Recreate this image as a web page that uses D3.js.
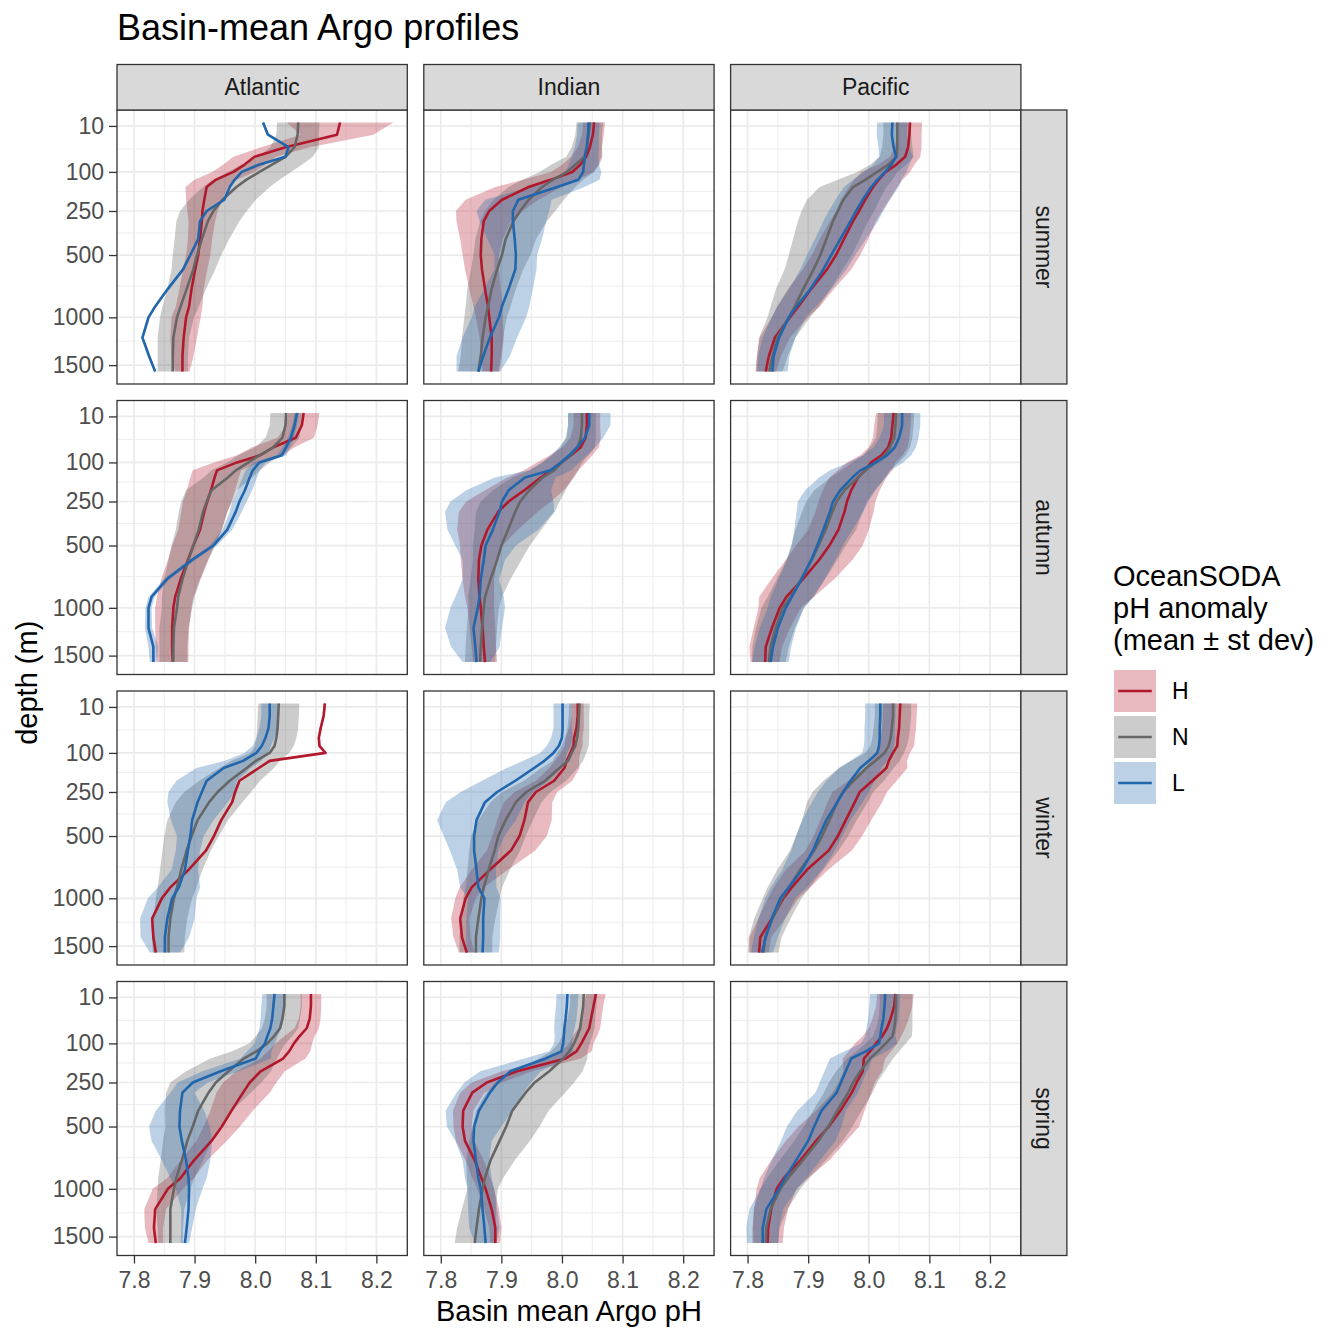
<!DOCTYPE html>
<html lang="en">
<head>
<meta charset="UTF-8" />
<title>Basin-mean Argo profiles</title>
<script src="https://cdnjs.cloudflare.com/ajax/libs/d3/7.8.5/d3.min.js"></script>
<style>
  body { margin: 0; background: #fff; }
  svg text { font-family: "Liberation Sans", Arial, Helvetica, sans-serif; }
</style>
</head>
<body>
<svg id="chart" width="1344" height="1344"></svg>
<script>
// facets and groups
const basins = ['Atlantic', 'Indian', 'Pacific'];
const seasons = ['summer', 'autumn', 'winter', 'spring'];
const groups = ['H', 'N', 'L'];
const xTicks = [7.8, 7.9, 8.0, 8.1, 8.2];
const yTicks = [10, 100, 250, 500, 1000, 1500];

// depth levels (m) shared by every profile
const depths = [7, 20, 40, 60, 80, 100, 125, 150, 200, 250, 300, 400, 500, 600, 750, 900, 1000, 1200, 1400, 1575];

// Atlantic summer
const meanAtlSumH = [8.140, 8.135, 8.050, 7.999, 7.982, 7.964, 7.935, 7.920, 7.916, 7.913, 7.912, 7.909, 7.906, 7.901, 7.895, 7.891, 7.886, 7.882, 7.880, 7.880];
const sdAtlSumH   = [0.088, 0.060, 0.040, 0.035, 0.035, 0.035, 0.035, 0.035, 0.030, 0.025, 0.022, 0.020, 0.020, 0.020, 0.020, 0.022, 0.024, 0.022, 0.018, 0.012];
const meanAtlSumN = [8.071, 8.070, 8.065, 8.050, 8.027, 8.007, 7.985, 7.969, 7.946, 7.931, 7.922, 7.912, 7.904, 7.898, 7.887, 7.877, 7.871, 7.865, 7.864, 7.864];
const sdAtlSumN   = [0.035, 0.035, 0.040, 0.045, 0.050, 0.052, 0.055, 0.055, 0.055, 0.055, 0.052, 0.045, 0.040, 0.036, 0.032, 0.030, 0.028, 0.026, 0.025, 0.025];
const meanAtlSumL = [8.013, 8.021, 8.055, 8.050, 8.006, 7.978, 7.966, 7.958, 7.949, 7.920, 7.909, 7.906, 7.893, 7.881, 7.856, 7.835, 7.824, 7.814, 7.825, 7.835];
const sdAtlSumL   = [0.002, 0.002, 0.002, 0.002, 0.002, 0.002, 0.002, 0.002, 0.002, 0.002, 0.002, 0.002, 0.002, 0.002, 0.002, 0.002, 0.002, 0.002, 0.002, 0.002];

// Indian summer
const meanIndSumH = [8.053, 8.051, 8.046, 8.040, 8.030, 8.017, 7.981, 7.945, 7.901, 7.880, 7.871, 7.867, 7.866, 7.868, 7.873, 7.878, 7.880, 7.884, 7.884, 7.883];
const sdIndSumH   = [0.018, 0.018, 0.020, 0.025, 0.030, 0.035, 0.045, 0.055, 0.060, 0.055, 0.045, 0.035, 0.030, 0.028, 0.026, 0.024, 0.022, 0.020, 0.017, 0.014];
const meanIndSumN = [8.046, 8.044, 8.041, 8.037, 8.022, 8.008, 7.985, 7.967, 7.945, 7.931, 7.920, 7.907, 7.901, 7.893, 7.884, 7.878, 7.874, 7.869, 7.866, 7.862];
const sdIndSumN   = [0.022, 0.022, 0.025, 0.030, 0.040, 0.045, 0.050, 0.055, 0.058, 0.058, 0.055, 0.050, 0.047, 0.043, 0.040, 0.037, 0.035, 0.034, 0.033, 0.033];
const meanIndSumL = [8.044, 8.043, 8.041, 8.038, 8.036, 8.035, 8.027, 7.992, 7.928, 7.919, 7.919, 7.922, 7.924, 7.923, 7.912, 7.901, 7.896, 7.881, 7.870, 7.862];
const sdIndSumL   = [0.018, 0.018, 0.020, 0.022, 0.025, 0.030, 0.035, 0.045, 0.055, 0.060, 0.055, 0.045, 0.035, 0.035, 0.040, 0.045, 0.045, 0.045, 0.044, 0.036];

// Pacific summer
const meanPacSumH = [8.068, 8.067, 8.065, 8.060, 8.045, 8.028, 8.016, 8.007, 7.994, 7.984, 7.974, 7.959, 7.946, 7.931, 7.905, 7.884, 7.870, 7.845, 7.835, 7.830];
const sdPacSumH   = [0.020, 0.020, 0.022, 0.025, 0.030, 0.040, 0.040, 0.040, 0.040, 0.038, 0.038, 0.040, 0.040, 0.040, 0.038, 0.035, 0.030, 0.025, 0.020, 0.017];
const meanPacSumN = [8.047, 8.047, 8.047, 8.046, 8.032, 8.014, 7.994, 7.974, 7.958, 7.949, 7.941, 7.930, 7.920, 7.909, 7.892, 7.878, 7.868, 7.849, 7.841, 7.836];
const sdPacSumN   = [0.023, 0.023, 0.025, 0.028, 0.030, 0.033, 0.045, 0.055, 0.060, 0.060, 0.058, 0.055, 0.052, 0.048, 0.045, 0.040, 0.035, 0.030, 0.025, 0.022];
const meanPacSumL = [8.039, 8.038, 8.041, 8.045, 8.037, 8.027, 8.014, 8.004, 7.990, 7.979, 7.970, 7.953, 7.938, 7.925, 7.904, 7.881, 7.868, 7.852, 7.843, 7.841];
const sdPacSumL   = [0.025, 0.025, 0.025, 0.028, 0.030, 0.035, 0.040, 0.045, 0.045, 0.045, 0.045, 0.042, 0.040, 0.038, 0.035, 0.032, 0.028, 0.027, 0.026, 0.025];

// Atlantic autumn
const meanAtlAutH = [8.080, 8.077, 8.067, 8.030, 8.008, 7.970, 7.937, 7.933, 7.927, 7.921, 7.916, 7.909, 7.898, 7.889, 7.877, 7.868, 7.865, 7.863, 7.863, 7.864];
const sdAtlAutH   = [0.026, 0.026, 0.030, 0.035, 0.038, 0.038, 0.040, 0.040, 0.040, 0.040, 0.038, 0.036, 0.035, 0.033, 0.032, 0.030, 0.030, 0.028, 0.027, 0.026];
const meanAtlAutN = [8.051, 8.050, 8.045, 8.030, 8.007, 7.989, 7.968, 7.955, 7.928, 7.920, 7.914, 7.907, 7.898, 7.890, 7.880, 7.873, 7.871, 7.866, 7.865, 7.865];
const sdAtlAutN   = [0.026, 0.026, 0.028, 0.030, 0.035, 0.035, 0.040, 0.040, 0.042, 0.042, 0.040, 0.038, 0.036, 0.033, 0.030, 0.027, 0.025, 0.024, 0.023, 0.023];
const meanAtlAutL = [8.069, 8.065, 8.059, 8.051, 8.044, 8.007, 7.996, 7.991, 7.983, 7.974, 7.968, 7.954, 7.931, 7.896, 7.854, 7.829, 7.824, 7.824, 7.832, 7.832];
const sdAtlAutL   = [0.004, 0.004, 0.005, 0.006, 0.008, 0.010, 0.012, 0.012, 0.012, 0.012, 0.010, 0.008, 0.006, 0.005, 0.005, 0.005, 0.005, 0.006, 0.008, 0.006];

// Indian autumn
const meanIndAutH = [8.041, 8.041, 8.039, 8.031, 8.015, 7.999, 7.982, 7.965, 7.938, 7.912, 7.895, 7.877, 7.867, 7.863, 7.862, 7.864, 7.866, 7.869, 7.871, 7.873];
const sdIndAutH   = [0.022, 0.022, 0.025, 0.030, 0.035, 0.040, 0.045, 0.055, 0.065, 0.070, 0.065, 0.050, 0.035, 0.030, 0.026, 0.024, 0.022, 0.021, 0.020, 0.020];
const meanIndAutN = [8.033, 8.033, 8.031, 8.026, 8.014, 8.000, 7.987, 7.968, 7.946, 7.931, 7.923, 7.911, 7.900, 7.893, 7.882, 7.873, 7.871, 7.868, 7.866, 7.865];
const sdIndAutN   = [0.023, 0.023, 0.025, 0.028, 0.030, 0.033, 0.040, 0.050, 0.060, 0.065, 0.065, 0.055, 0.047, 0.040, 0.033, 0.028, 0.025, 0.025, 0.025, 0.025];
const meanIndAutL = [8.045, 8.045, 8.038, 8.025, 8.012, 7.998, 7.981, 7.939, 7.912, 7.901, 7.897, 7.886, 7.874, 7.871, 7.866, 7.864, 7.861, 7.854, 7.857, 7.859];
const sdIndAutL   = [0.035, 0.035, 0.030, 0.030, 0.030, 0.030, 0.035, 0.050, 0.070, 0.085, 0.090, 0.075, 0.050, 0.035, 0.030, 0.040, 0.045, 0.047, 0.040, 0.023];

// Pacific autumn
const meanPacAutH = [8.041, 8.039, 8.037, 8.032, 8.021, 8.004, 7.994, 7.982, 7.971, 7.964, 7.960, 7.950, 7.935, 7.918, 7.891, 7.864, 7.853, 7.840, 7.830, 7.829];
const sdPacAutH   = [0.029, 0.030, 0.030, 0.032, 0.035, 0.040, 0.045, 0.047, 0.047, 0.047, 0.048, 0.050, 0.055, 0.055, 0.052, 0.045, 0.035, 0.030, 0.027, 0.024];
const meanPacAutN = [8.045, 8.044, 8.042, 8.035, 8.026, 8.011, 7.995, 7.982, 7.960, 7.947, 7.940, 7.929, 7.917, 7.906, 7.888, 7.871, 7.858, 7.846, 7.838, 7.835];
const sdPacAutN   = [0.030, 0.030, 0.030, 0.033, 0.035, 0.038, 0.040, 0.045, 0.050, 0.050, 0.050, 0.050, 0.045, 0.042, 0.040, 0.038, 0.035, 0.032, 0.030, 0.028];
const meanPacAutL = [8.055, 8.055, 8.050, 8.043, 8.030, 8.012, 7.986, 7.973, 7.953, 7.941, 7.936, 7.925, 7.915, 7.905, 7.889, 7.873, 7.863, 7.850, 7.842, 7.838];
const sdPacAutL   = [0.030, 0.030, 0.032, 0.035, 0.040, 0.045, 0.050, 0.055, 0.058, 0.058, 0.055, 0.048, 0.042, 0.040, 0.038, 0.035, 0.030, 0.030, 0.030, 0.030];

// Atlantic winter
const meanAtlWinH = [8.115, 8.113, 8.108, 8.105, 8.106, 8.116, 8.024, 8.006, 7.974, 7.967, 7.962, 7.944, 7.932, 7.919, 7.890, 7.860, 7.846, 7.830, 7.832, 7.836];
const sdAtlWinH   = [0.002, 0.002, 0.002, 0.002, 0.002, 0.002, 0.002, 0.002, 0.002, 0.002, 0.002, 0.002, 0.002, 0.002, 0.002, 0.002, 0.002, 0.002, 0.002, 0.002];
const meanAtlWinN = [8.039, 8.038, 8.037, 8.035, 8.032, 8.024, 8.001, 7.986, 7.958, 7.938, 7.924, 7.905, 7.895, 7.887, 7.878, 7.871, 7.866, 7.860, 7.857, 7.857];
const sdAtlWinN   = [0.034, 0.034, 0.034, 0.033, 0.032, 0.032, 0.040, 0.045, 0.050, 0.055, 0.055, 0.050, 0.045, 0.040, 0.035, 0.032, 0.030, 0.028, 0.027, 0.026];
const meanAtlWinL = [8.024, 8.024, 8.022, 8.017, 8.011, 8.002, 7.980, 7.948, 7.920, 7.912, 7.905, 7.896, 7.893, 7.889, 7.884, 7.874, 7.863, 7.855, 7.851, 7.851];
const sdAtlWinL   = [0.014, 0.014, 0.015, 0.015, 0.015, 0.020, 0.030, 0.045, 0.050, 0.055, 0.050, 0.035, 0.022, 0.020, 0.022, 0.035, 0.040, 0.045, 0.040, 0.025];

// Indian winter
const meanIndWinH = [8.026, 8.026, 8.024, 8.020, 8.019, 8.014, 8.008, 8.004, 7.987, 7.957, 7.944, 7.938, 7.930, 7.916, 7.881, 7.851, 7.841, 7.832, 7.835, 7.843];
const sdIndWinH   = [0.010, 0.010, 0.012, 0.014, 0.015, 0.016, 0.020, 0.025, 0.030, 0.035, 0.040, 0.045, 0.045, 0.040, 0.030, 0.020, 0.017, 0.015, 0.014, 0.013];
const meanIndWinN = [8.029, 8.028, 8.027, 8.025, 8.022, 8.016, 8.010, 7.996, 7.972, 7.941, 7.924, 7.907, 7.895, 7.889, 7.879, 7.871, 7.867, 7.862, 7.858, 7.858];
const sdIndWinN   = [0.017, 0.017, 0.018, 0.020, 0.022, 0.024, 0.025, 0.030, 0.035, 0.040, 0.042, 0.045, 0.045, 0.042, 0.035, 0.030, 0.030, 0.028, 0.027, 0.027];
const meanIndWinL = [8.001, 8.001, 8.001, 8.000, 7.995, 7.986, 7.971, 7.954, 7.923, 7.893, 7.873, 7.859, 7.855, 7.855, 7.859, 7.862, 7.872, 7.870, 7.870, 7.869];
const sdIndWinL   = [0.015, 0.015, 0.015, 0.018, 0.020, 0.022, 0.035, 0.045, 0.055, 0.060, 0.065, 0.065, 0.050, 0.040, 0.032, 0.030, 0.027, 0.028, 0.028, 0.027];

// Pacific winter
const meanPacWinH = [8.052, 8.051, 8.050, 8.048, 8.047, 8.040, 8.033, 8.029, 8.006, 7.985, 7.977, 7.962, 7.949, 7.934, 7.898, 7.873, 7.859, 7.840, 7.821, 7.819];
const sdPacWinH   = [0.028, 0.028, 0.028, 0.028, 0.028, 0.028, 0.030, 0.035, 0.040, 0.045, 0.045, 0.042, 0.040, 0.038, 0.035, 0.030, 0.025, 0.022, 0.018, 0.016];
const meanPacWinN = [8.040, 8.040, 8.038, 8.036, 8.033, 8.026, 8.011, 7.996, 7.975, 7.957, 7.948, 7.935, 7.923, 7.910, 7.887, 7.868, 7.857, 7.841, 7.829, 7.826];
const sdPacWinN   = [0.030, 0.030, 0.030, 0.030, 0.030, 0.032, 0.040, 0.045, 0.050, 0.050, 0.050, 0.045, 0.043, 0.040, 0.038, 0.035, 0.032, 0.030, 0.027, 0.025];
const meanPacWinL = [8.019, 8.019, 8.018, 8.018, 8.017, 8.014, 8.000, 7.986, 7.970, 7.958, 7.948, 7.930, 7.918, 7.908, 7.890, 7.868, 7.854, 7.840, 7.830, 7.824];
const sdPacWinL   = [0.025, 0.025, 0.025, 0.025, 0.025, 0.025, 0.030, 0.035, 0.040, 0.042, 0.042, 0.040, 0.038, 0.036, 0.033, 0.030, 0.025, 0.022, 0.020, 0.018];

// Atlantic spring
const meanAtlSprH = [8.092, 8.092, 8.090, 8.085, 8.073, 8.064, 8.056, 8.046, 8.009, 7.991, 7.980, 7.961, 7.945, 7.928, 7.899, 7.877, 7.856, 7.835, 7.833, 7.836];
const sdAtlSprH   = [0.017, 0.017, 0.018, 0.020, 0.025, 0.030, 0.035, 0.037, 0.040, 0.044, 0.044, 0.035, 0.030, 0.025, 0.022, 0.022, 0.025, 0.018, 0.015, 0.012];
const meanAtlSprN = [8.048, 8.048, 8.045, 8.041, 8.031, 8.020, 8.002, 7.981, 7.956, 7.935, 7.923, 7.906, 7.897, 7.888, 7.879, 7.870, 7.866, 7.860, 7.860, 7.860];
const sdAtlSprN   = [0.029, 0.029, 0.029, 0.030, 0.030, 0.030, 0.040, 0.055, 0.070, 0.075, 0.070, 0.055, 0.045, 0.040, 0.035, 0.030, 0.027, 0.023, 0.021, 0.020];
const meanAtlSprL = [8.032, 8.030, 8.028, 8.025, 8.020, 8.016, 8.007, 8.001, 7.943, 7.897, 7.880, 7.876, 7.875, 7.879, 7.886, 7.890, 7.891, 7.890, 7.887, 7.884];
const sdAtlSprL   = [0.020, 0.020, 0.019, 0.018, 0.017, 0.017, 0.020, 0.025, 0.030, 0.025, 0.020, 0.040, 0.050, 0.050, 0.040, 0.030, 0.022, 0.012, 0.009, 0.007];

// Indian spring
const meanIndSprH = [8.056, 8.052, 8.048, 8.045, 8.038, 8.032, 8.024, 8.006, 7.926, 7.876, 7.852, 7.837, 7.836, 7.840, 7.856, 7.867, 7.874, 7.884, 7.890, 7.890];
const sdIndSprH   = [0.016, 0.016, 0.017, 0.018, 0.020, 0.020, 0.025, 0.025, 0.025, 0.025, 0.020, 0.017, 0.015, 0.015, 0.015, 0.015, 0.014, 0.012, 0.010, 0.008];
const meanIndSprN = [8.036, 8.035, 8.032, 8.030, 8.025, 8.020, 8.012, 8.002, 7.979, 7.955, 7.940, 7.918, 7.908, 7.897, 7.882, 7.873, 7.869, 7.863, 7.859, 7.856];
const sdIndSprN   = [0.022, 0.022, 0.023, 0.024, 0.025, 0.026, 0.030, 0.040, 0.055, 0.065, 0.065, 0.060, 0.055, 0.050, 0.040, 0.030, 0.025, 0.028, 0.032, 0.033];
const meanIndSprL = [8.009, 8.008, 8.006, 8.004, 8.003, 8.002, 7.999, 7.973, 7.915, 7.894, 7.881, 7.863, 7.855, 7.854, 7.858, 7.862, 7.866, 7.869, 7.872, 7.874];
const sdIndSprL   = [0.018, 0.018, 0.018, 0.017, 0.015, 0.015, 0.020, 0.035, 0.050, 0.055, 0.055, 0.055, 0.045, 0.030, 0.022, 0.022, 0.022, 0.024, 0.025, 0.018];

// Pacific spring
const meanPacSprH = [8.044, 8.042, 8.036, 8.030, 8.022, 8.012, 8.002, 7.992, 7.990, 7.980, 7.972, 7.953, 7.934, 7.913, 7.887, 7.860, 7.848, 7.839, 7.834, 7.833];
const sdPacSprH   = [0.030, 0.030, 0.030, 0.030, 0.032, 0.035, 0.035, 0.035, 0.032, 0.030, 0.032, 0.040, 0.050, 0.050, 0.048, 0.040, 0.033, 0.028, 0.026, 0.025];
const meanPacSprN = [8.045, 8.045, 8.044, 8.042, 8.039, 8.028, 8.015, 8.002, 7.986, 7.974, 7.966, 7.948, 7.933, 7.917, 7.891, 7.867, 7.854, 7.838, 7.831, 7.830];
const sdPacSprN   = [0.027, 0.027, 0.028, 0.030, 0.032, 0.033, 0.035, 0.038, 0.040, 0.040, 0.040, 0.040, 0.040, 0.040, 0.038, 0.035, 0.033, 0.028, 0.022, 0.020];
const meanPacSprL = [8.027, 8.026, 8.024, 8.021, 8.019, 8.017, 7.995, 7.971, 7.962, 7.954, 7.947, 7.922, 7.910, 7.900, 7.880, 7.862, 7.852, 7.831, 7.825, 7.825];
const sdPacSprL   = [0.025, 0.025, 0.025, 0.025, 0.025, 0.030, 0.035, 0.035, 0.035, 0.035, 0.035, 0.040, 0.045, 0.045, 0.040, 0.035, 0.030, 0.028, 0.027, 0.026];

// table of profiles: basin, season, group, mean, sd
const profileTable = [
  ['Atlantic', 'summer', 'H', meanAtlSumH, sdAtlSumH], ['Atlantic', 'summer', 'N', meanAtlSumN, sdAtlSumN], ['Atlantic', 'summer', 'L', meanAtlSumL, sdAtlSumL],
  ['Indian', 'summer', 'H', meanIndSumH, sdIndSumH], ['Indian', 'summer', 'N', meanIndSumN, sdIndSumN], ['Indian', 'summer', 'L', meanIndSumL, sdIndSumL],
  ['Pacific', 'summer', 'H', meanPacSumH, sdPacSumH], ['Pacific', 'summer', 'N', meanPacSumN, sdPacSumN], ['Pacific', 'summer', 'L', meanPacSumL, sdPacSumL],
  ['Atlantic', 'autumn', 'H', meanAtlAutH, sdAtlAutH], ['Atlantic', 'autumn', 'N', meanAtlAutN, sdAtlAutN], ['Atlantic', 'autumn', 'L', meanAtlAutL, sdAtlAutL],
  ['Indian', 'autumn', 'H', meanIndAutH, sdIndAutH], ['Indian', 'autumn', 'N', meanIndAutN, sdIndAutN], ['Indian', 'autumn', 'L', meanIndAutL, sdIndAutL],
  ['Pacific', 'autumn', 'H', meanPacAutH, sdPacAutH], ['Pacific', 'autumn', 'N', meanPacAutN, sdPacAutN], ['Pacific', 'autumn', 'L', meanPacAutL, sdPacAutL],
  ['Atlantic', 'winter', 'H', meanAtlWinH, sdAtlWinH], ['Atlantic', 'winter', 'N', meanAtlWinN, sdAtlWinN], ['Atlantic', 'winter', 'L', meanAtlWinL, sdAtlWinL],
  ['Indian', 'winter', 'H', meanIndWinH, sdIndWinH], ['Indian', 'winter', 'N', meanIndWinN, sdIndWinN], ['Indian', 'winter', 'L', meanIndWinL, sdIndWinL],
  ['Pacific', 'winter', 'H', meanPacWinH, sdPacWinH], ['Pacific', 'winter', 'N', meanPacWinN, sdPacWinN], ['Pacific', 'winter', 'L', meanPacWinL, sdPacWinL],
  ['Atlantic', 'spring', 'H', meanAtlSprH, sdAtlSprH], ['Atlantic', 'spring', 'N', meanAtlSprN, sdAtlSprN], ['Atlantic', 'spring', 'L', meanAtlSprL, sdAtlSprL],
  ['Indian', 'spring', 'H', meanIndSprH, sdIndSprH], ['Indian', 'spring', 'N', meanIndSprN, sdIndSprN], ['Indian', 'spring', 'L', meanIndSprL, sdIndSprL],
  ['Pacific', 'spring', 'H', meanPacSprH, sdPacSprH], ['Pacific', 'spring', 'N', meanPacSprN, sdPacSprN], ['Pacific', 'spring', 'L', meanPacSprL, sdPacSprL],
];

const fillColour = { H: '#B2182B', N: '#555555', L: '#2166AC' };
const lineColour = { H: '#B2182B', N: '#666666', L: '#2166AC' };
const fillOpacity = 0.3;

// layout
const svg = d3.select('#chart');
const panelW = 290.3, panelH = 274, gapX = 16.5, gapY = 16.5;
const plotLeft = 117, plotTop = 110, stripH = 45.5, stripW = 46;
const panelX = c => plotLeft + c * (panelW + gapX);
const panelY = r => plotTop + r * (panelH + gapY);
const fontFamily = '"Liberation Sans", Arial, Helvetica, sans-serif';

// scales: x fixed, y sqrt with ggplot-like 5% expansion in transformed space
const x = d3.scaleLinear().domain([7.772, 8.251]).range([0, panelW]);
const sLo = Math.sqrt(d3.min(depths)), sHi = Math.sqrt(d3.max(depths));
const pad = (sHi - sLo) * 0.05;
const y = d3.scaleSqrt().domain([(sLo - pad) ** 2, (sHi + pad) ** 2]).range([0, panelH]);

// minor breaks halfway between majors (in transformed space)
const xMinor = xTicks.slice(0, -1).map((t, i) => (t + xTicks[i + 1]) / 2)
  .concat([xTicks[xTicks.length - 1] + 0.05])
  .filter(v => v >= x.domain()[0] && v <= x.domain()[1]);
const yMinor = yTicks.slice(0, -1).map((t, i) => ((Math.sqrt(t) + Math.sqrt(yTicks[i + 1])) / 2) ** 2);

function profile(basin, season, group) {
  const row = profileTable.find(p => p[0] === basin && p[1] === season && p[2] === group);
  return depths.map((d, i) => ({ depth: d, mean: row[3][i], sd: row[4][i] }));
}

const area = d3.area()
  .y(d => y(d.depth))
  .x0(d => x(d.mean - d.sd))
  .x1(d => x(d.mean + d.sd));
const line = d3.line()
  .x(d => x(d.mean))
  .y(d => y(d.depth));

svg.append('defs').append('clipPath').attr('id', 'panel-clip')
  .append('rect').attr('width', panelW).attr('height', panelH);

// title
svg.append('text')
  .attr('x', plotLeft).attr('y', 40)
  .attr('font-size', 36).attr('fill', '#000')
  .text('Basin-mean Argo profiles');

seasons.forEach((season, r) => {
  basins.forEach((basin, c) => {
    const g = svg.append('g').attr('transform', `translate(${panelX(c)},${panelY(r)})`);
    g.append('rect').attr('width', panelW).attr('height', panelH).attr('fill', '#fff');

    // grid
    const grid = g.append('g').attr('stroke', '#EBEBEB');
    grid.selectAll('.xminor').data(xMinor).enter().append('line')
      .attr('x1', d => x(d)).attr('x2', d => x(d)).attr('y1', 0).attr('y2', panelH)
      .attr('stroke-width', 0.9);
    grid.selectAll('.yminor').data(yMinor).enter().append('line')
      .attr('y1', d => y(d)).attr('y2', d => y(d)).attr('x1', 0).attr('x2', panelW)
      .attr('stroke-width', 0.9);
    grid.selectAll('.xmajor').data(xTicks).enter().append('line')
      .attr('x1', d => x(d)).attr('x2', d => x(d)).attr('y1', 0).attr('y2', panelH)
      .attr('stroke-width', 1.7);
    grid.selectAll('.ymajor').data(yTicks).enter().append('line')
      .attr('y1', d => y(d)).attr('y2', d => y(d)).attr('x1', 0).attr('x2', panelW)
      .attr('stroke-width', 1.7);

    const data = g.append('g').attr('clip-path', 'url(#panel-clip)');
    groups.forEach(grp => {
      data.append('path')
        .attr('d', area(profile(basin, season, grp)))
        .attr('fill', fillColour[grp])
        .attr('fill-opacity', fillOpacity)
        .attr('stroke', 'none');
    });
    groups.forEach(grp => {
      data.append('path')
        .attr('d', line(profile(basin, season, grp)))
        .attr('fill', 'none')
        .attr('stroke', lineColour[grp])
        .attr('stroke-width', 2.6)
        .attr('stroke-linejoin', 'round');
    });

    g.append('rect').attr('width', panelW).attr('height', panelH)
      .attr('fill', 'none').attr('stroke', '#333333').attr('stroke-width', 1.3);

    // left axis on first column
    if (c === 0) {
      const ax = g.append('g')
        .call(d3.axisLeft(y).tickValues(yTicks).tickSize(8).tickPadding(5).tickFormat(d3.format('d')));
      ax.select('.domain').remove();
      ax.selectAll('.tick line').attr('stroke', '#333333').attr('stroke-width', 1.3);
      ax.selectAll('.tick text').attr('font-size', 23).attr('fill', '#4D4D4D')
        .attr('font-family', fontFamily);
    }
    // bottom axis on last row
    if (r === seasons.length - 1) {
      const ax = g.append('g').attr('transform', `translate(0,${panelH})`)
        .call(d3.axisBottom(x).tickValues(xTicks).tickSize(8).tickPadding(8).tickFormat(d3.format('.1f')));
      ax.select('.domain').remove();
      ax.selectAll('.tick line').attr('stroke', '#333333').attr('stroke-width', 1.3);
      ax.selectAll('.tick text').attr('font-size', 23).attr('fill', '#4D4D4D')
        .attr('font-family', fontFamily);
    }
    // top strips
    if (r === 0) {
      svg.append('rect')
        .attr('x', panelX(c)).attr('y', plotTop - stripH)
        .attr('width', panelW).attr('height', stripH)
        .attr('fill', '#D9D9D9').attr('stroke', '#333333').attr('stroke-width', 1.3);
      svg.append('text')
        .attr('x', panelX(c) + panelW / 2).attr('y', plotTop - stripH / 2 + 8)
        .attr('text-anchor', 'middle').attr('font-size', 23).attr('fill', '#1A1A1A')
        .text(basin);
    }
    // right strips
    if (c === basins.length - 1) {
      const sx = panelX(c) + panelW;
      svg.append('rect')
        .attr('x', sx).attr('y', panelY(r))
        .attr('width', stripW).attr('height', panelH)
        .attr('fill', '#D9D9D9').attr('stroke', '#333333').attr('stroke-width', 1.3);
      svg.append('text')
        .attr('transform', `translate(${sx + stripW / 2 - 8},${panelY(r) + panelH / 2}) rotate(90)`)
        .attr('text-anchor', 'middle').attr('font-size', 23).attr('fill', '#1A1A1A')
        .text(season);
    }
  });
});

// axis titles
const plotBottom = panelY(seasons.length - 1) + panelH;
svg.append('text')
  .attr('x', (panelX(0) + panelX(basins.length - 1) + panelW) / 2).attr('y', 1321)
  .attr('text-anchor', 'middle').attr('font-size', 29).attr('fill', '#000')
  .text('Basin mean Argo pH');
svg.append('text')
  .attr('transform', `translate(37,${(plotTop + plotBottom) / 2}) rotate(-90)`)
  .attr('text-anchor', 'middle').attr('font-size', 29).attr('fill', '#000')
  .text('depth (m)');

// legend
const legend = svg.append('g').attr('transform', 'translate(1113,0)');
['OceanSODA', 'pH anomaly', '(mean \u00B1 st dev)'].forEach((t, i) => {
  legend.append('text').attr('x', 0).attr('y', 586 + i * 32)
    .attr('font-size', 29).attr('fill', '#000').text(t);
});
const keySize = 42, keyPitch = 46, keyTop = 670;
groups.forEach((grp, i) => {
  const ky = keyTop + i * keyPitch;
  legend.append('rect').attr('x', 1).attr('y', ky).attr('width', keySize).attr('height', keySize)
    .attr('fill', fillColour[grp]).attr('fill-opacity', fillOpacity);
  legend.append('line')
    .attr('x1', 1 + keySize * 0.1).attr('x2', 1 + keySize * 0.9)
    .attr('y1', ky + keySize / 2).attr('y2', ky + keySize / 2)
    .attr('stroke', lineColour[grp]).attr('stroke-width', 2.6);
  legend.append('text').attr('x', 59).attr('y', ky + keySize / 2 + 8)
    .attr('font-size', 23).attr('fill', '#000').text(grp);
});
</script>
</body>
</html>
